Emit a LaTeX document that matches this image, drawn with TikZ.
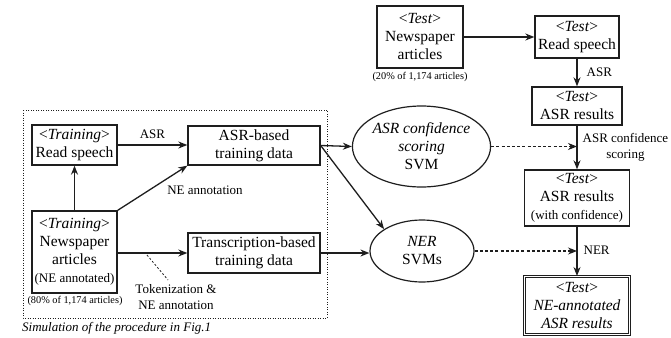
\documentclass[tikz,border=0pt]{standalone}
\usepackage{fontspec}
\setmainfont{Liberation Serif}
\usetikzlibrary{arrows.meta,shapes.geometric}
\definecolor{ink}{HTML}{1E1E1E}
\newcommand{\bigf}{\fontsize{15.5}{18}\selectfont}
\newcommand{\midf}{\fontsize{13}{16}\selectfont}
\newcommand{\smallf}{\fontsize{10.3}{12}\selectfont}
\newcommand{\tagit}[1]{\textless\textit{#1}\textgreater}
\begin{document}
\begin{tikzpicture}[x=1pt,y=-1pt,
  box/.style={draw=ink, line width=1.35pt, inner sep=0pt, align=center, text=black, font=\bigf},
  oval/.style={ellipse, draw=ink, line width=1.2pt, inner sep=0pt, align=center, text=black, font=\bigf},
  lbl/.style={inner sep=0pt, align=center, text=black, font=\midf},
  note/.style={inner sep=0pt, text=black, font=\smallf},
  arr/.style={draw=ink, line width=1.3pt, -{Stealth[length=9pt,width=7pt]}},
  dasharr/.style={draw=ink, line width=1.1pt, dash pattern=on 3pt off 2.2pt, -{Stealth[length=9pt,width=7pt]}},
  leader/.style={draw=ink, line width=0.8pt, dash pattern=on 2pt off 2pt}]
\useasboundingbox (0,0) rectangle (671,337);

% training side (simulation)
\draw[ink, line width=0.8pt, dash pattern=on 1pt off 1.5pt] (23,110) rectangle (327,318);
\node[anchor=west, inner sep=0pt, text=black, font=\midf\itshape] (cap) at (22,328) {Simulation of the procedure in Fig.1};

\node[box, minimum width=85pt, minimum height=40pt] (trs) at (74.5,145) {\tagit{Training}\\Read speech};
\node[box, minimum width=85pt, minimum height=82pt] (trn) at (74.5,252) {\tagit{Training}\\Newspaper\\articles\\{\midf(NE annotated)}};
\node[note] (trnc) at (75,301) {(80\% of 1,174 articles)};

\node[box, minimum width=132pt, minimum height=39pt] (asrtd) at (254,145.5) {ASR-based\\training data};
\node[box, minimum width=132pt, minimum height=40pt] (trtd) at (254,253) {Transcription-based\\training data};

\node[oval, minimum width=104pt, minimum height=81pt] (conf) at (421.5,146.5) {\textit{ASR confidence}\\\textit{scoring}\\SVM};
\node[oval, minimum width=104pt, minimum height=62pt] (ner) at (422,251) {\textit{NER}\\SVMs};

\draw[arr] (trn) -- (trs);
\draw[arr] (trs.east) -- (trs.east -| asrtd.west) node[lbl, midway, above=6pt] (lasr) {ASR};
\draw[arr] (trn.north east) -- (asrtd.south west);
\node[lbl] (lne) at (205,190) {NE annotation};
\draw[arr] (trn.east |- trtd.west) -- (trtd.west);
\coordinate (tk1) at (147,255);
\coordinate (tk2) at (168,280);
\draw[leader] (tk1) -- (tk2);
\node[lbl] (ltok) at (176,297) {Tokenization \&\\NE annotation};

\draw[arr] (asrtd.east) -- (conf.west);
\draw[arr] (asrtd.east) -- (ner.150);
\draw[arr] (trtd.east) -- (trtd.east -| ner.west);

% test side
\node[box, minimum width=86pt, minimum height=62pt] (tnews) at (420,37) {\tagit{Test}\\Newspaper\\articles};
\node[note] (tnewsc) at (420,77) {(20\% of 1,174 articles)};
\node[box, minimum width=84pt, minimum height=42pt] (tread) at (577,37) {\tagit{Test}\\Read speech};
\node[box, minimum width=90pt, minimum height=38pt] (tasr) at (577,106) {\tagit{Test}\\ASR results};
\node[box, minimum width=105pt, minimum height=56pt] (tconf) at (577,198) {\tagit{Test}\\ASR results\\{\midf(with confidence)}};
\node[box, double=white, line width=1pt, double distance=1.5pt, minimum width=105pt, minimum height=58pt] (tner) at (577,305.5) {\tagit{Test}\\\textit{NE-annotated}\\\textit{ASR results}};

\draw[arr] (tnews.east) -- (tread.west);
\draw[arr] (tread) -- (tasr) node[lbl, midway, anchor=west, xshift=9pt] (lasr2) {ASR};
\draw[arr] (tasr) -- (tconf) node[lbl, midway, anchor=west, xshift=5pt] (lconf) {ASR confidence\\scoring};
\draw[arr] (tconf) -- (tner) node[lbl, midway, anchor=west, xshift=6pt, yshift=1.5pt] (lner) {NER};

\draw[dasharr] (conf.east) -- (conf.east -| tasr.south);
\draw[dasharr] (ner.east) -- (ner.east -| tconf.south);
\end{tikzpicture}
\end{document}
